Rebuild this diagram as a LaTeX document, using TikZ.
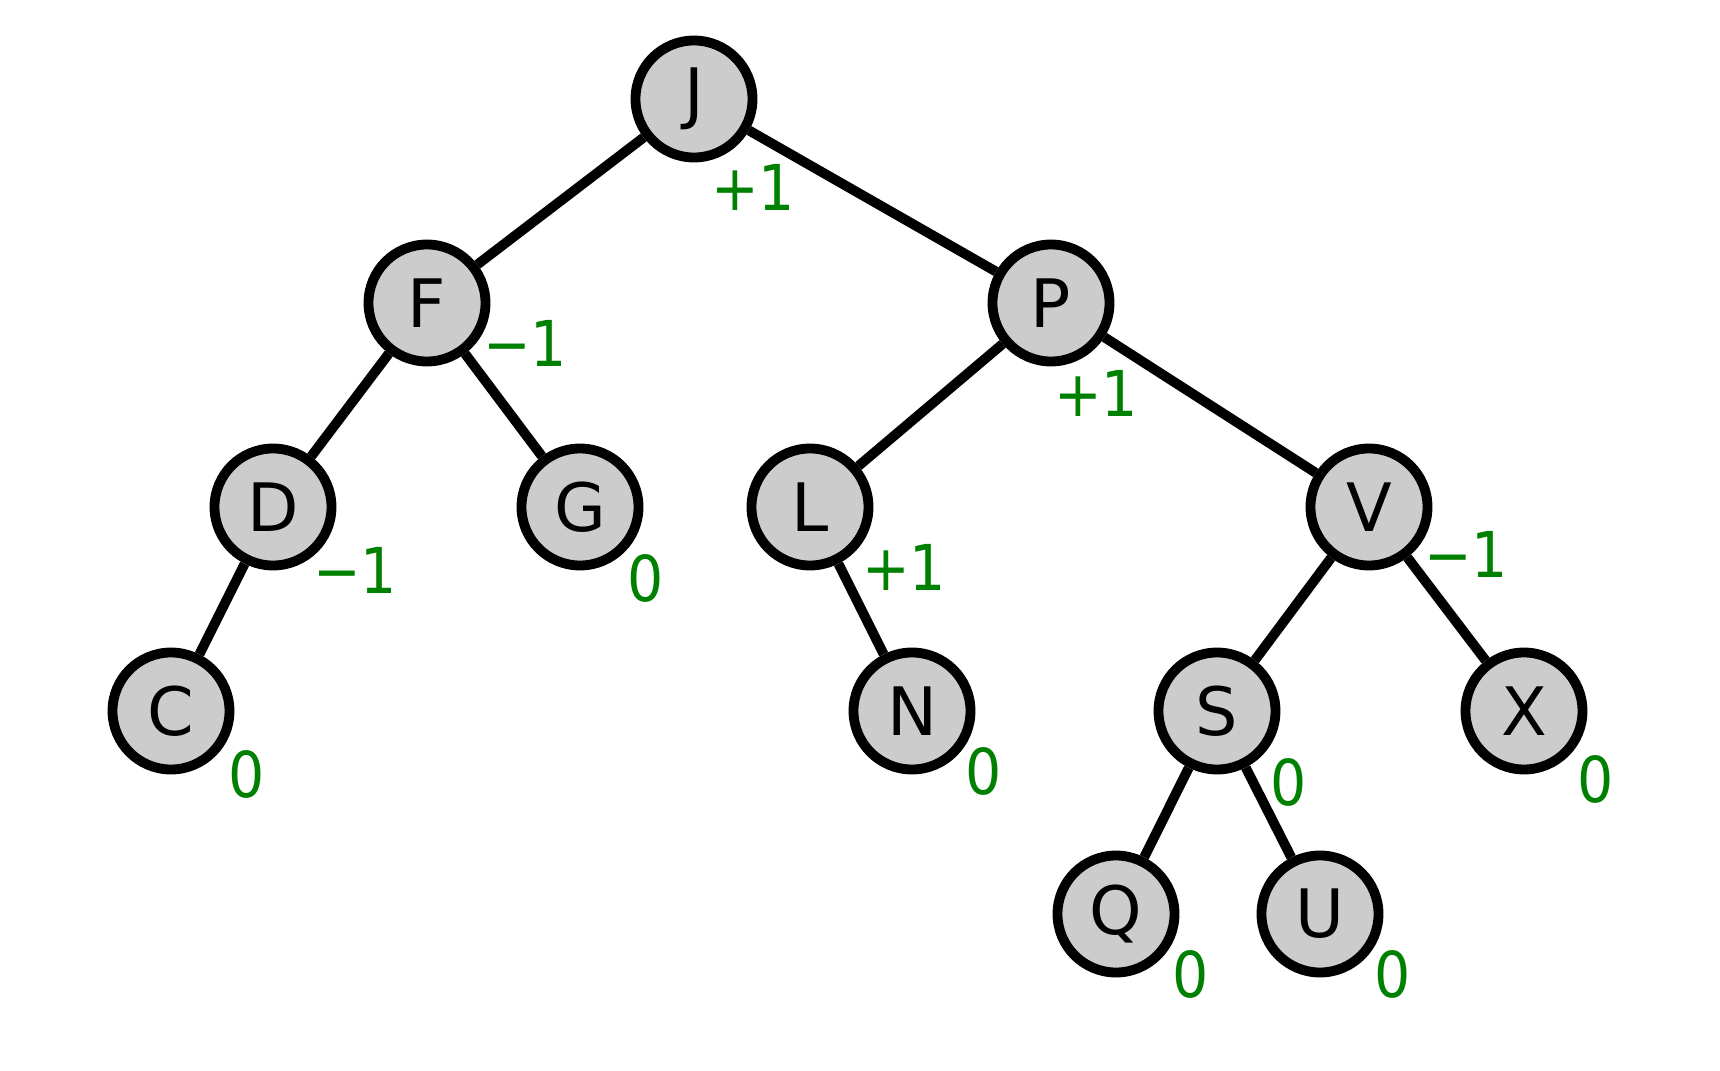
\documentclass[tikz,border=0pt]{standalone}
\usepackage{fontspec}
\setmainfont{DejaVu Sans}
\newfontfamily\balfont{DejaVu Sans Condensed}
\definecolor{nodegray}{RGB}{204,204,204}
\definecolor{balgreen}{RGB}{0,128,0}
\usetikzlibrary{positioning}

\begin{document}
\begin{tikzpicture}[
  vert/.style={circle, draw=black, line width=2.8pt, fill=nodegray,
               minimum size=1.17cm, inner sep=0pt, font=\fontsize{19}{19}\selectfont},
  bal/.style={inner sep=0pt, text=balgreen, font=\balfont\fontsize{18}{18}\selectfont},
  edge/.style={line width=2.8pt}
]
\useasboundingbox (0,0) rectangle (17.2,10.7);

% Vertices
\node[vert] (J) at ( 6.94,9.71) {J};
\node[vert] (F) at ( 4.27,7.67) {F};
\node[vert] (P) at (10.51,7.67) {P};
\node[vert] (D) at ( 2.73,5.63) {D};
\node[vert] (G) at ( 5.80,5.63) {G};
\node[vert] (L) at ( 8.10,5.63) {L};
\node[vert] (V) at (13.69,5.63) {V};
\node[vert] (C) at ( 1.71,3.59) {C};
\node[vert] (N) at ( 9.12,3.59) {N};
\node[vert] (S) at (12.17,3.59) {S};
\node[vert] (X) at (15.24,3.59) {X};
\node[vert] (Q) at (11.16,1.56) {Q};
\node[vert] (U) at (13.20,1.56) {U};

% Edges
\draw[edge] (J) -- (F);
\draw[edge] (J) -- (P);
\draw[edge] (F) -- (D);
\draw[edge] (F) -- (G);
\draw[edge] (D) -- (C);
\draw[edge] (P) -- (L);
\draw[edge] (P) -- (V);
\draw[edge] (L) -- (N);
\draw[edge] (V) -- (S);
\draw[edge] (V) -- (X);
\draw[edge] (S) -- (Q);
\draw[edge] (S) -- (U);

% Balance factors
\node[bal] (Jbal) at ( 7.53,8.83) {+1};
\node[bal] (Fbal) at ( 5.25,7.27) {−1};
\node[bal] (Pbal) at (10.96,6.77) {+1};
\node[bal] (Dbal) at ( 3.55,5.00) {−1};
\node[bal] (Gbal) at ( 6.46,4.92) {0};
\node[bal] (Lbal) at ( 9.04,5.03) {+1};
\node[bal] (Vbal) at (14.66,5.16) {−1};
\node[bal] (Cbal) at ( 2.47,2.96) {0};
\node[bal] (Nbal) at ( 9.84,2.99) {0};
\node[bal] (Sbal) at (12.89,2.88) {0};
\node[bal] (Xbal) at (15.96,2.91) {0};
\node[bal] (Qbal) at (11.91,0.96) {0};
\node[bal] (Ubal) at (13.93,0.96) {0};
\end{tikzpicture}
\end{document}
